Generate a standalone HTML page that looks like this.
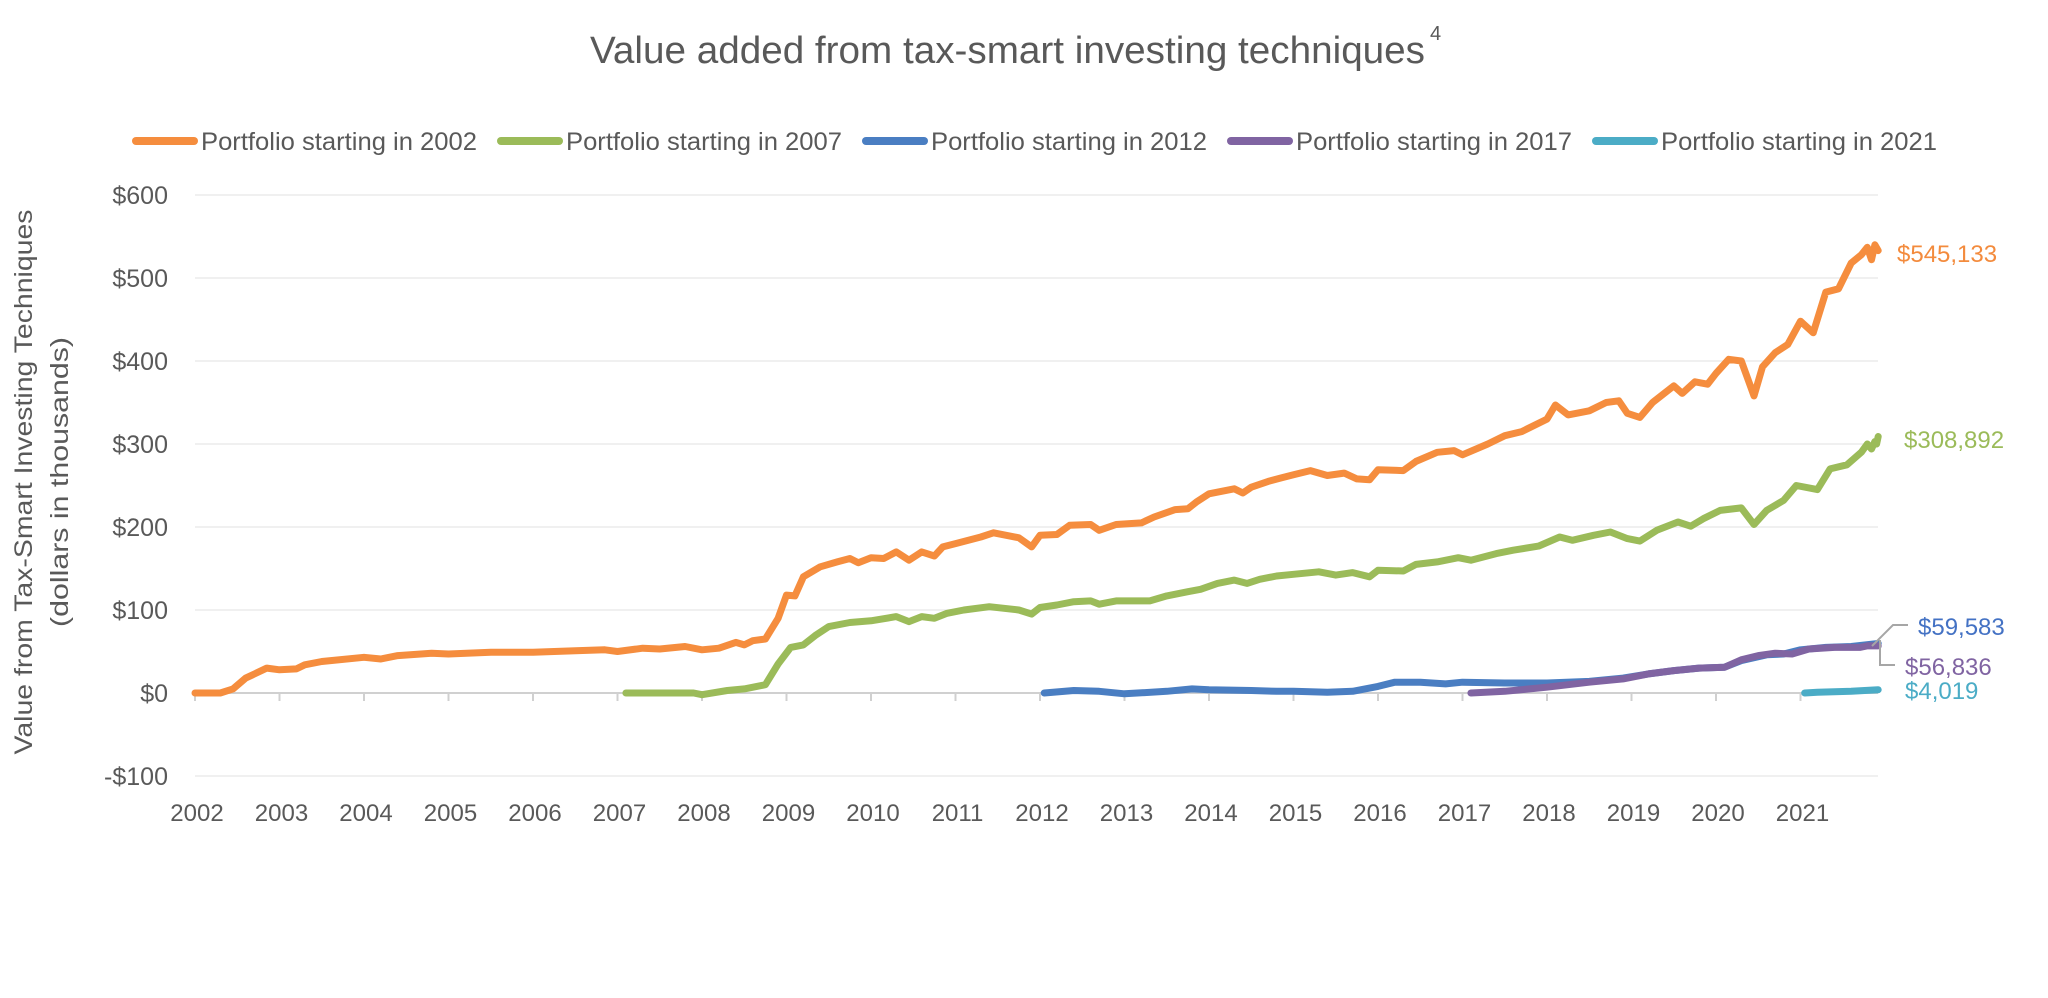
<!DOCTYPE html>
<html><head><meta charset="utf-8"><style>
html,body{margin:0;padding:0;background:#fff;}
svg{display:block;font-family:"Liberation Sans",sans-serif;}
</style></head><body>
<svg id="c" width="2048" height="998" viewBox="0 0 2048 998" xmlns="http://www.w3.org/2000/svg">
<rect width="2048" height="998" fill="#fff"/>
<text x="590" y="63" font-size="38" fill="#595959" textLength="835" lengthAdjust="spacingAndGlyphs">Value added from tax-smart investing techniques</text>
<text x="1430" y="40" font-size="20" fill="#595959">4</text>
<g id="legend"></g>
<g id="grid"></g>
<g id="series"></g>
<text transform="translate(32,482) rotate(-90)" text-anchor="middle" font-size="25" fill="#595959" textLength="545" lengthAdjust="spacingAndGlyphs">Value from Tax-Smart Investing Techniques</text>
<text transform="translate(68,482) rotate(-90)" text-anchor="middle" font-size="25" fill="#595959" textLength="290" lengthAdjust="spacingAndGlyphs">(dollars in thousands)</text>
<g font-size="24">
<text x="1897" y="262" fill="#F38B3D">$545,133</text>
<text x="1904" y="448" fill="#9BBB59">$308,892</text>
<text x="1918" y="635" fill="#4472C4">$59,583</text>
<text x="1905" y="675" fill="#8064A2">$56,836</text>
<text x="1905" y="699" fill="#4BACC6">$4,019</text>
</g>
<polyline points="1872,646 1893,625 1908,625" fill="none" stroke="#a6a6a6" stroke-width="2"/>
<polyline points="1880,640 1880,665 1895,665" fill="none" stroke="#a6a6a6" stroke-width="2"/>
</svg>
<script>
const NS="http://www.w3.org/2000/svg";
const X=y=>195+84.5*(y-2002), Y=v=>693-0.83*v;
function el(p,t,a,txt){const e=document.createElementNS(NS,t);for(const k in a)e.setAttribute(k,a[k]);if(txt!==undefined)e.textContent=txt;p.appendChild(e);return e;}
const g=document.getElementById('grid');
for(let v=-100;v<=600;v+=100){
 if(v!==0) el(g,'line',{x1:195,x2:1878,y1:Y(v),y2:Y(v),stroke:'#ececec','stroke-width':1.5});
 el(g,'text',{x:168,y:Y(v)+9,'text-anchor':'end','font-size':25,fill:'#595959'},(v<0?'-$':'$')+Math.abs(v));
}
el(g,'line',{x1:195,x2:1878,y1:Y(0),y2:Y(0),stroke:'#d0d0d0','stroke-width':2});
for(let yr=2002;yr<=2021;yr++){
 el(g,'line',{x1:X(yr),x2:X(yr),y1:Y(0),y2:Y(0)+8,stroke:'#d0d0d0','stroke-width':2});
 el(g,'text',{x:X(yr)+2,y:821,'text-anchor':'middle','font-size':24,fill:'#595959'},String(yr));
}
const C=['#F58D3E','#9BBB59','#4A7EC2','#8064A2','#4BACC6'];
const L=document.getElementById('legend');
const lx=[133,498,863,1228,1593],yrs=[2002,2007,2012,2017,2021];
lx.forEach((x,i)=>{el(L,'line',{x1:x+3,x2:x+61,y1:141,y2:141,stroke:C[i],'stroke-width':8,'stroke-linecap':'round'});
 el(L,'text',{x:x+68,y:150,'font-size':25,fill:'#595959',textLength:276,lengthAdjust:'spacingAndGlyphs'},'Portfolio starting in '+yrs[i]);});
const D=[
[[2002,0],[2002.3,0],[2002.45,5],[2002.6,18],[2002.85,30],[2003,28],[2003.2,29],[2003.3,34],[2003.5,38],[2004,43],[2004.2,41],[2004.4,45],[2004.8,48],[2005,47],[2005.5,49],[2006,49],[2006.5,51],[2006.85,52],[2007,50],[2007.3,54],[2007.5,53],[2007.8,56],[2008,52],[2008.2,54],[2008.4,61],[2008.5,58],[2008.6,63],[2008.75,65],[2008.9,90],[2009,118],[2009.1,117],[2009.2,140],[2009.4,152],[2009.6,158],[2009.75,162],[2009.85,157],[2010,163],[2010.15,162],[2010.3,170],[2010.45,160],[2010.6,170],[2010.75,165],[2010.85,176],[2011,180],[2011.3,188],[2011.45,193],[2011.75,187],[2011.9,176],[2012,190],[2012.2,191],[2012.35,202],[2012.6,203],[2012.7,196],[2012.9,203],[2013.2,205],[2013.35,212],[2013.6,221],[2013.75,222],[2013.85,230],[2014,240],[2014.3,246],[2014.4,241],[2014.5,248],[2014.7,255],[2014.85,259],[2015,263],[2015.2,268],[2015.4,262],[2015.6,265],[2015.75,258],[2015.9,257],[2016,269],[2016.3,268],[2016.45,279],[2016.7,290],[2016.9,292],[2017,287],[2017.3,300],[2017.5,310],[2017.7,315],[2018,330],[2018.1,347],[2018.25,335],[2018.5,340],[2018.7,350],[2018.85,352],[2018.95,337],[2019.1,332],[2019.25,350],[2019.5,370],[2019.6,361],[2019.75,375],[2019.9,372],[2020,385],[2020.15,402],[2020.3,400],[2020.45,358],[2020.55,393],[2020.7,410],[2020.85,420],[2021,448],[2021.15,434],[2021.3,483],[2021.45,487],[2021.6,518],[2021.72,528],[2021.79,537],[2021.84,522],[2021.88,540],[2021.92,533]],
[[2007.1,0],[2007.9,0],[2008,-2],[2008.3,3],[2008.5,5],[2008.75,10],[2008.9,35],[2009.05,55],[2009.2,58],[2009.35,70],[2009.5,80],[2009.75,85],[2010,87],[2010.3,92],[2010.45,86],[2010.6,92],[2010.75,90],[2010.9,96],[2011.1,100],[2011.4,104],[2011.75,100],[2011.9,95],[2012,103],[2012.2,106],[2012.4,110],[2012.6,111],[2012.7,107],[2012.9,111],[2013.3,111],[2013.5,117],[2013.75,122],[2013.9,125],[2014.1,132],[2014.3,136],[2014.45,132],[2014.6,137],[2014.8,141],[2015,143],[2015.3,146],[2015.5,142],[2015.7,145],[2015.9,140],[2016,148],[2016.3,147],[2016.45,155],[2016.7,158],[2016.95,163],[2017.1,160],[2017.4,168],[2017.6,172],[2017.9,177],[2018.15,188],[2018.3,184],[2018.55,190],[2018.75,194],[2018.95,186],[2019.1,183],[2019.3,196],[2019.55,206],[2019.7,201],[2019.85,210],[2020.05,220],[2020.3,223],[2020.45,203],[2020.6,220],[2020.8,232],[2020.95,250],[2021.2,245],[2021.35,270],[2021.55,275],[2021.72,290],[2021.79,300],[2021.84,294],[2021.88,303],[2021.9,300],[2021.92,309]],
[[2012.05,0],[2012.4,3],[2012.7,2],[2013,-1],[2013.5,2],[2013.8,5],[2014,4],[2014.5,3],[2014.8,2],[2015,2],[2015.4,1],[2015.7,2],[2016,8],[2016.2,13],[2016.5,13],[2016.8,11],[2017,13],[2017.5,12],[2018,12],[2018.5,14],[2018.9,18],[2019.2,23],[2019.5,27],[2019.8,30],[2020.1,31],[2020.3,39],[2020.6,46],[2020.8,47],[2021,52],[2021.3,55],[2021.6,56],[2021.92,59.6]],
[[2017.1,0],[2017.5,2],[2018,7],[2018.5,13],[2018.9,17],[2019.2,23],[2019.5,27],[2019.8,30],[2020.1,31],[2020.3,40],[2020.5,45],[2020.7,48],[2020.9,47],[2021.1,53],[2021.4,55],[2021.7,55],[2021.8,57],[2021.92,56.8]],
[[2021.05,0],[2021.2,1],[2021.6,2],[2021.92,4]]];
const S=document.getElementById('series');
D.forEach((d,i)=>el(S,'polyline',{points:d.map(p=>X(p[0]).toFixed(1)+','+Y(p[1]).toFixed(1)).join(' '),fill:'none',stroke:C[i],'stroke-width':7,'stroke-linejoin':'round','stroke-linecap':'round'}));
</script>
</body></html>
